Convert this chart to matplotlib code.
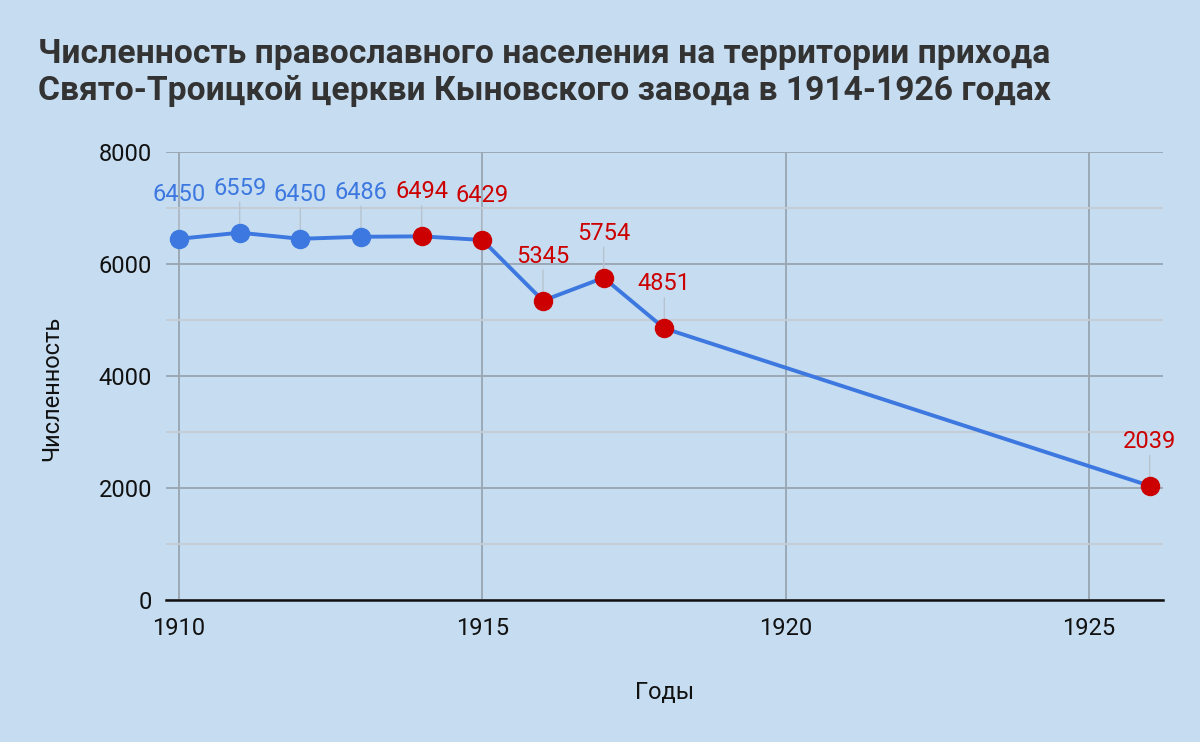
import numpy as np
import matplotlib.pyplot as plt
from matplotlib.ticker import MultipleLocator

plt.rcParams['font.family'] = ['Roboto', 'DejaVu Sans']

# Datos
anios = [1910, 1911, 1912, 1913, 1914, 1915, 1916, 1917, 1918, 1926]
valores = [6450, 6559, 6450, 6486, 6494, 6429, 5345, 5754, 4851, 2039]
resaltado = [False, False, False, False, True, True, True, True, True, True]

titulo = ("Численность православного населения на территории прихода\n"
          "Свято-Троицкой церкви Кыновского завода в 1914-1926 годах")
xticks = [1910, 1915, 1920, 1925]
yticks = [0, 2000, 4000, 6000, 8000]

fondo = "#c6dcf0"
azul = "#3c78e0"
rojo = "#cc0000"

fig = plt.figure(figsize=(12, 7.42), dpi=100, facecolor=fondo)
ax = fig.add_axes([166 / 1200, 1 - 600 / 742, (1163 - 166) / 1200, (600 - 152) / 742])
ax.set_facecolor(fondo)

ax.set_xlim(1909.786, 1926.22)
ax.set_ylim(0, 8000)
ax.set_xticks(xticks)
ax.set_yticks(yticks)
ax.yaxis.set_minor_locator(MultipleLocator(1000))

ax.grid(True, which="major", color="#98a4b0", linewidth=1.3)
ax.grid(True, which="minor", axis="y", color="#c4ccd4", linewidth=1.3)
ax.set_axisbelow(True)

for s in ["top", "right", "left"]:
    ax.spines[s].set_visible(False)
ax.spines["bottom"].set_color("#111111")
ax.spines["bottom"].set_linewidth(1.8)
ax.spines["bottom"].set_zorder(5)

ax.tick_params(axis="both", which="both", length=0, labelsize=17, colors="#111111")
ax.tick_params(axis="y", pad=10)
ax.tick_params(axis="x", pad=12)

ax.plot(anios, valores, color=azul, linewidth=2.8, zorder=3)
for x, y, r in zip(anios, valores, resaltado):
    c = rojo if r else azul
    ax.plot(x, y, "o", color=c, markersize=13, zorder=4)
    # linea guía y etiqueta
    ax.annotate("", xy=(x, y), xytext=(0, 22), textcoords="offset points",
                xycoords="data",
                arrowprops=dict(arrowstyle="-", color="#b7c4d0", lw=1.0,
                                shrinkA=0, shrinkB=6), zorder=2)
    ax.annotate(f"{y}", xy=(x, y), xytext=(0, 32), textcoords="offset points",
                ha="center", va="center", fontsize=17, color=c, zorder=4)

ax.set_xlabel("Годы", fontsize=17, color="#111111", labelpad=30)
ax.set_ylabel("Численность", fontsize=17, color="#111111")
ax.yaxis.set_label_coords(-0.103, 0.473)

fig.text(38 / 1200, 1 - 38 / 742, titulo, fontsize=24.2, fontweight="bold",
         color="#333333", ha="left", va="top", linespacing=1.2)

plt.savefig("out.png", dpi=100, facecolor=fondo)
